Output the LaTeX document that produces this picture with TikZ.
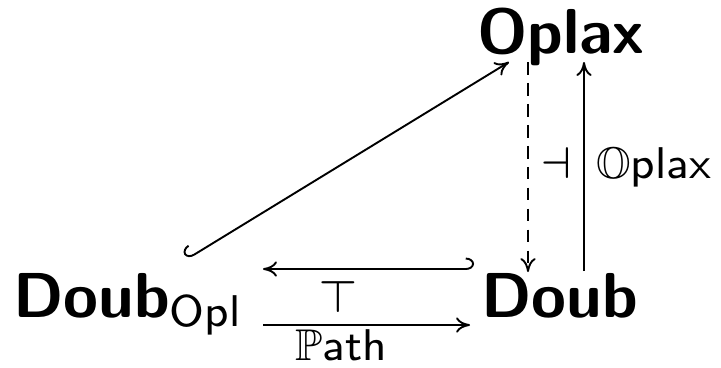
\documentclass[tikz,border=0pt]{standalone}
\usepackage{amssymb}
\usepackage{amsmath}
\usepackage{tikz}
\usetikzlibrary{arrows.meta}

\tikzset{
    obj/.style={font=\sffamily\bfseries, inner sep=0pt, anchor=base west},
    lbl/.style={font=\scriptsize\sffamily, inner sep=0pt, anchor=base},
    cmarr/.style={line width=0.3pt, -{Computer Modern Rightarrow[length=2.2pt, width=2.4pt]}},
    hookarrL/.style={cmarr, {Hooks[left, length=1.3pt, width=3.6pt]}-{Computer Modern Rightarrow[length=2.2pt, width=2.4pt]}},
    hookarrR/.style={cmarr, {Hooks[right, length=1.3pt, width=3.6pt]}-{Computer Modern Rightarrow[length=2.2pt, width=2.4pt]}},
}

\begin{document}
\begin{tikzpicture}[x=0.1575pt, y=-0.1575pt]
    \useasboundingbox (0,0) rectangle (721,367);

    \node[obj] (Oplax) at (476,53) {Oplax};
    \node[obj] (Doub) at (480,317) {Doub};
    \node[obj] (DoubOpl) at (12,317) {Doub\raisebox{-1.5pt}{\scriptsize\mdseries Opl}};

    % inclusion into Oplax
    \draw[hookarrR] ([shift={(175,-58)}]DoubOpl.base west) -- ([shift={(33,9)}]Oplax.base west);
    % adjunction on the right
    \draw[cmarr, dash pattern=on 2pt off 1.3pt] ([shift={(52,9)}]Oplax.base west) -- ([shift={(48,-45)}]Doub.base west);
    \draw[cmarr] ([shift={(104,-46)}]Doub.base west) -- ([shift={(108,9)}]Oplax.base west);
    % adjunction at the bottom
    \draw[hookarrL] ([shift={(-6,-48)}]Doub.base west) -- ([shift={(251,-48)}]DoubOpl.base west);
    \draw[cmarr] ([shift={(251,8)}]DoubOpl.base west) -- ([shift={(-10,8)}]Doub.base west);

    \node[lbl] (top) at (338,312) {$\top$};
    \node[lbl] (path) at (341,360) {$\mathbb{P}$ath};
    \node[lbl] (adj) at (556,178) {$\dashv$};
    \node[lbl, anchor=base west] (oplaxF) at (595,178) {$\mathbb{O}$plax};
\end{tikzpicture}
\end{document}
